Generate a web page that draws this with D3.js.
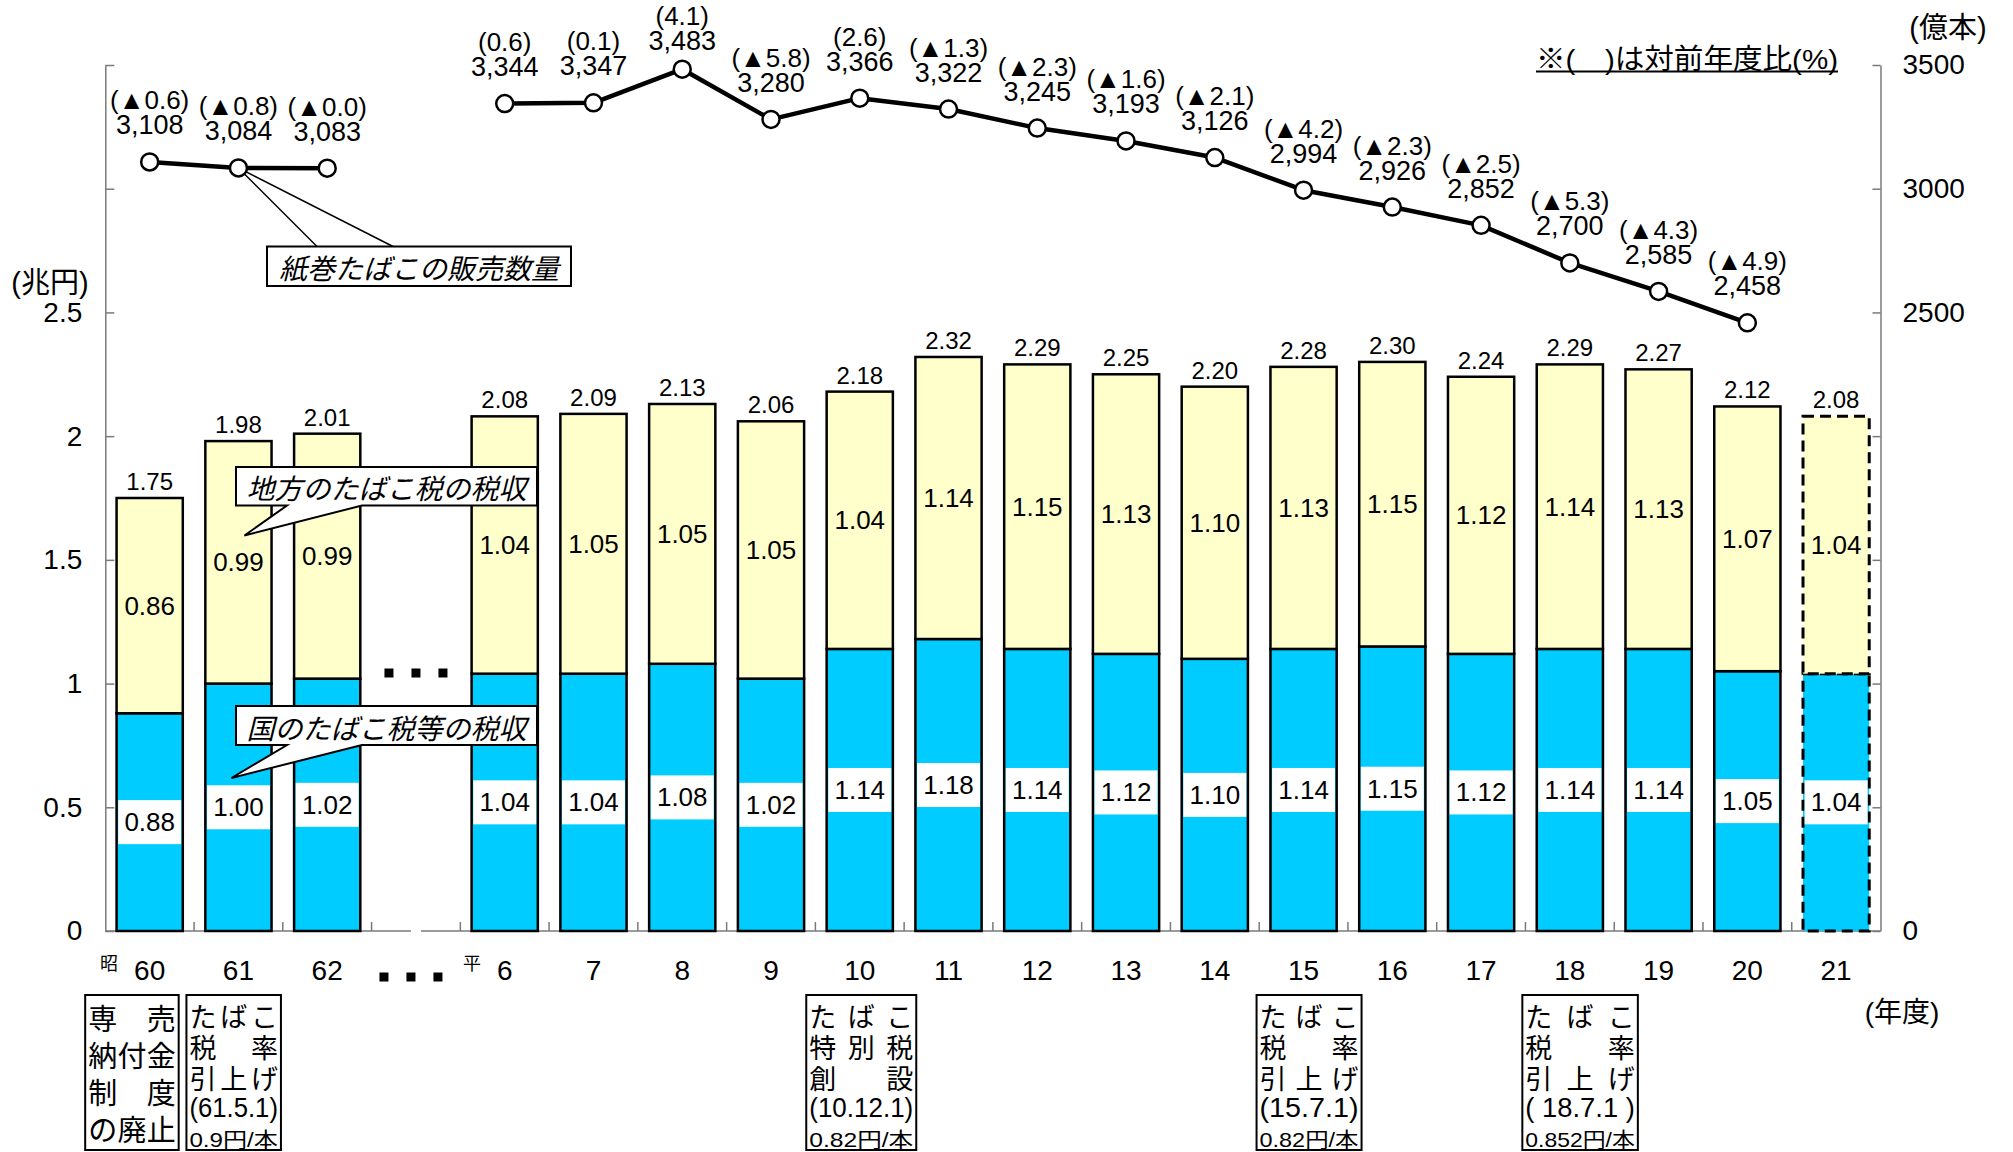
<!DOCTYPE html>
<html>
<head>
<meta charset="utf-8">
<script src="https://cdn.jsdelivr.net/npm/d3@7"></script>
<style>
  html, body { margin: 0; padding: 0; background: #fff; }
  svg { display: block; }
  text { font-family: "Liberation Sans", "Noto Sans CJK JP", sans-serif; fill: #000; }
  .jp { font-family: "Noto Sans CJK JP", sans-serif; }
</style>
</head>
<body>
<svg id="chart" width="2013" height="1152"></svg>
<script>
// ---- data -------------------------------------------------------------
// fiscal years: 昭和60–62, a break, then 平成6–21 (gap slot keeps the break visible)
const categories = ["S60","S61","S62","gap","H6","H7","H8","H9","H10","H11","H12","H13","H14","H15","H16","H17","H18","H19","H20","H21"];
const yearLabels = ["60","61","62","","6","7","8","9","10","11","12","13","14","15","16","17","18","19","20","21"];

// tobacco tax revenue (兆円)
const nationalTax = [0.88,1.00,1.02,null,1.04,1.04,1.08,1.02,1.14,1.18,1.14,1.12,1.10,1.14,1.15,1.12,1.14,1.14,1.05,1.04];
const localTax    = [0.86,0.99,0.99,null,1.04,1.05,1.05,1.05,1.04,1.14,1.15,1.13,1.10,1.13,1.15,1.12,1.14,1.13,1.07,1.04];
const totalTax    = [1.75,1.98,2.01,null,2.08,2.09,2.13,2.06,2.18,2.32,2.29,2.25,2.20,2.28,2.30,2.24,2.29,2.27,2.12,2.08];
const projectedYear = "H21";

// cigarette sales volume (億本) and year-on-year change (%)
const salesVolume = [3108,3084,3083,null,3344,3347,3483,3280,3366,3322,3245,3193,3126,2994,2926,2852,2700,2585,2458,null];
const salesChange = ["▲0.6","▲0.8","▲0.0",null,"0.6","0.1","4.1","▲5.8","2.6","▲1.3","▲2.3","▲1.6","▲2.1","▲4.2","▲2.3","▲2.5","▲5.3","▲4.3","▲4.9",null];

// axis ticks
const leftTicks  = [0,0.5,1,1.5,2,2.5,3,3.5];
const leftLabels = ["0","0.5","1","1.5","2","2.5","",""];
const rightTicks  = [0,500,1000,1500,2000,2500,3000,3500];
const rightLabels = ["0","","","","","2500","3000","3500"];

// policy notes under the year axis
const noteCategories = ["S60","S61","H10","H15","H18"];
const noteLines = [
  ["専売","納付金","制度","の廃止"],
  ["たばこ","税率","引上げ","(61.5.1)","0.9円/本"],
  ["たばこ","特別税","創設","(10.12.1)","0.82円/本"],
  ["たばこ","税率","引上げ","(15.7.1)","0.82円/本"],
  ["たばこ","税率","引上げ","( 18.7.1 )","0.852円/本"]
];

// ---- layout -------------------------------------------------------------
const svg = d3.select("#chart");
const plot = { left: 105.3, right: 1880.5, top: 65, bottom: 931 };
const COL_NATIONAL = "#00CCFF", COL_LOCAL = "#FFFFCC", AXIS = "#7a7a7a";

const x = d3.scaleBand().domain(categories).range([plot.left, plot.right])
  .paddingInner(0.254).paddingOuter(0.127);
const cx = c => x(c) + x.bandwidth() / 2;
const yL = d3.scaleLinear().domain([0, 3.5]).range([plot.bottom, plot.top]);
const yR = d3.scaleLinear().domain([0, 3500]).range([plot.bottom, plot.top]);

// ---- axes -------------------------------------------------------------
const gLeft = svg.append("g").attr("transform", `translate(${plot.left},0)`).attr("color", AXIS)
  .call(d3.axisLeft(yL).tickValues(leftTicks).tickSizeInner(-9).tickSizeOuter(0).tickPadding(23)
    .tickFormat((d, i) => leftLabels[i]));
const gRight = svg.append("g").attr("transform", `translate(${plot.right},0)`).attr("color", AXIS)
  .call(d3.axisRight(yR).tickValues(rightTicks).tickSizeInner(-8).tickSizeOuter(0).tickPadding(22)
    .tickFormat((d, i) => rightLabels[i]));
[gLeft, gRight].forEach(g => {
  g.selectAll("path.domain, line").attr("stroke-width", 1.5);
  g.selectAll("text").style("font-size", "28px");
});

// baseline with a break between the two eras
const gapX = cx("gap");
svg.append("g").attr("stroke", AXIS).attr("stroke-width", 1.5)
  .selectAll("line").data([[plot.left, gapX - 5], [gapX + 5, plot.right]]).join("line")
  .attr("x1", d => d[0]).attr("x2", d => d[1]).attr("y1", plot.bottom).attr("y2", plot.bottom);
// boundary ticks between years
svg.append("g").attr("stroke", AXIS).attr("stroke-width", 1.5)
  .selectAll("line").data(categories.slice(1)).join("line")
  .attr("x1", c => x(c) - x.step() * x.paddingInner() / 2)
  .attr("x2", c => x(c) - x.step() * x.paddingInner() / 2)
  .attr("y1", plot.bottom).attr("y2", plot.bottom - 9);

// year labels
const yearG = svg.append("g");
categories.forEach((c, i) => {
  if (!yearLabels[i]) return;
  const t = yearG.append("text").attr("x", cx(c)).attr("y", 970)
    .attr("text-anchor", "middle").attr("dominant-baseline", "central")
    .style("font-size", "28px").text(yearLabels[i]);
  const era = c === "S60" ? "昭" : c === "H6" ? "平" : null;
  if (era) {
    const w = t.node().getComputedTextLength();
    yearG.append("text").attr("class", "jp").attr("x", cx(c) - w / 2 - 16).attr("y", 962)
      .attr("text-anchor", "end").attr("dominant-baseline", "central")
      .style("font-size", "18px").text(era);
  }
});
svg.append("text").attr("x", 1902).attr("y", 1012).attr("text-anchor", "middle")
  .attr("dominant-baseline", "central").style("font-size", "28px").text("(年度)");

// ellipsis marks for the omitted years
[[673, 0], [977, -5]].forEach(([yy, off]) => {
  svg.append("g").selectAll("rect").data([-27, 0, 27]).join("rect")
    .attr("x", d => gapX + off + d - 4.5).attr("y", yy - 4.5).attr("width", 9).attr("height", 9)
    .attr("fill", "#000");
});

// ---- bars -------------------------------------------------------------
const barIdx = d3.range(categories.length).filter(i => totalTax[i] != null);
const bars = svg.append("g");
barIdx.forEach(i => {
  const c = categories[i];
  const dashed = c === projectedYear;
  const g = bars.append("g")
    .attr("stroke", "#000").attr("stroke-width", dashed ? 3 : 2.5)
    .attr("stroke-dasharray", dashed ? "11 6" : null);
  g.append("rect").attr("x", x(c)).attr("width", x.bandwidth())
    .attr("y", yL(nationalTax[i])).attr("height", yL(0) - yL(nationalTax[i]))
    .attr("fill", COL_NATIONAL);
  g.append("rect").attr("x", x(c)).attr("width", x.bandwidth())
    .attr("y", yL(totalTax[i])).attr("height", yL(nationalTax[i]) - yL(totalTax[i]))
    .attr("fill", COL_LOCAL);
});

// bar value labels
const lab = svg.append("g");
barIdx.forEach(i => {
  const c = categories[i];
  const my = yL(nationalTax[i] / 2);
  lab.append("rect").attr("x", cx(c) - 31.5).attr("y", my - 22).attr("width", 63).attr("height", 44)
    .attr("fill", "#fff");
  lab.append("text").attr("x", cx(c)).attr("y", my).attr("text-anchor", "middle")
    .attr("dominant-baseline", "central").style("font-size", "26px").text(nationalTax[i].toFixed(2));
  lab.append("text").attr("x", cx(c)).attr("y", yL((nationalTax[i] + totalTax[i]) / 2))
    .attr("text-anchor", "middle").attr("dominant-baseline", "central")
    .style("font-size", "26px").text(localTax[i].toFixed(2));
  lab.append("text").attr("x", cx(c)).attr("y", yL(totalTax[i]) - 8)
    .attr("text-anchor", "middle").style("font-size", "24px").text(totalTax[i].toFixed(2));
});

// ---- callouts for the two revenue series ----------------------------
function bubble(box, tail, label) {
  const [x0, y0, x1, y1] = box, [b0, b1, tx, ty] = tail;
  svg.append("path")
    .attr("d", `M${x0},${y0}H${x1}V${y1}H${b1}L${tx},${ty}L${b0},${y1}H${x0}Z`)
    .attr("fill", "#fff").attr("stroke", "#000").attr("stroke-width", 2);
  svg.append("text").attr("class", "jp").attr("x", (x0 + x1) / 2).attr("y", (y0 + y1) / 2 + 1)
    .attr("text-anchor", "middle").attr("dominant-baseline", "central")
    .style("font-size", "28px").style("font-style", "italic").text(label);
}
bubble([236, 467, 537, 505.5], [287, 362, cx("S61") + 6, 535.5], "地方のたばこ税の税収");
bubble([236, 706, 537, 745], [287, 362, cx("S61") - 7, 778], "国のたばこ税等の税収");

// ---- sales volume line ----------------------------------------------
const pts = categories.map((c, i) => ({ c, v: salesVolume[i], p: salesChange[i] }));
const line = d3.line().defined(d => d.v != null).x(d => cx(d.c)).y(d => yR(d.v));

// leader lines to the line-series label
const lead = pts[1];
svg.append("g").attr("stroke", "#000").attr("stroke-width", 1.5)
  .selectAll("line").data([317, 393]).join("line")
  .attr("x1", cx(lead.c)).attr("y1", yR(lead.v)).attr("x2", d => d).attr("y2", 246.5);
svg.append("rect").attr("x", 267).attr("y", 246.5).attr("width", 304).attr("height", 39.5)
  .attr("fill", "#fff").attr("stroke", "#000").attr("stroke-width", 2);
svg.append("text").attr("class", "jp").attr("x", 419).attr("y", 267)
  .attr("text-anchor", "middle").attr("dominant-baseline", "central")
  .style("font-size", "28px").style("font-style", "italic").text("紙巻たばこの販売数量");

svg.append("path").datum(pts).attr("d", line)
  .attr("fill", "none").attr("stroke", "#000").attr("stroke-width", 4.5).attr("stroke-linejoin", "round");
svg.append("g").selectAll("circle").data(pts.filter(d => d.v != null)).join("circle")
  .attr("cx", d => cx(d.c)).attr("cy", d => yR(d.v)).attr("r", 8.5)
  .attr("fill", "#fff").attr("stroke", "#000").attr("stroke-width", 2.5);

// change (%) above the volume, both in one two-line label
const fmt = d3.format(",");
const ll = svg.append("g");
pts.filter(d => d.v != null).forEach(d => {
  const py = yR(d.v);
  const pctY = Math.max(16, py - 61.5);
  const t = ll.append("text").attr("text-anchor", "middle").attr("dominant-baseline", "central");
  t.append("tspan").attr("x", cx(d.c)).attr("y", pctY).style("font-size", "26px").text(`(${d.p})`);
  t.append("tspan").attr("x", cx(d.c)).attr("y", pctY + 25).style("font-size", "27px").text(fmt(d.v));
});

// ---- unit labels and notes -------------------------------------------
svg.append("text").attr("x", 50).attr("y", 283).attr("text-anchor", "middle")
  .attr("dominant-baseline", "central").style("font-size", "29px").text("(兆円)");
svg.append("text").attr("x", 1948).attr("y", 28).attr("text-anchor", "middle")
  .attr("dominant-baseline", "central").style("font-size", "29px").text("(億本)");
svg.append("text").attr("x", 1536).attr("y", 59).attr("dominant-baseline", "central")
  .attr("textLength", 302).attr("lengthAdjust", "spacingAndGlyphs")
  .style("font-size", "28px").text("※(　)は対前年度比(%)");
svg.append("line").attr("x1", 1536).attr("x2", 1838).attr("y1", 71.5).attr("y2", 71.5)
  .attr("stroke", "#000").attr("stroke-width", 2);

// policy-change notes: boxed, justified lines in one text block per box
const noteSpan = [[-64.5, 29], [-52, 42.5], [-53.5, 56.5], [-47, 58], [-47.5, 68]];
noteCategories.forEach((c, k) => {
  const lines = noteLines[k];
  const x0 = cx(c) + noteSpan[k][0], x1 = cx(c) + noteSpan[k][1];
  const g = svg.append("g");
  g.append("rect").attr("x", x0).attr("y", 995).attr("width", x1 - x0).attr("height", 155)
    .attr("fill", "#fff").attr("stroke", "#000").attr("stroke-width", 2);
  const four = lines.length === 4;
  const t = g.append("text").attr("dominant-baseline", "central");
  lines.forEach((s, j) => {
    const last = !four && j === lines.length - 1;
    const numeric = /[0-9]/.test(s);
    t.append("tspan").attr("x", x0 + 3).attr("y", four ? 1017 + 37 * j : 1015 + 31 * j)
      .attr("textLength", x1 - x0 - 6)
      .attr("lengthAdjust", numeric ? "spacingAndGlyphs" : "spacing")
      .attr("class", numeric ? null : "jp")
      .style("font-size", last ? "21px" : four ? "29px" : "27px")
      .text(s);
  });
});
</script>
</body>
</html>
